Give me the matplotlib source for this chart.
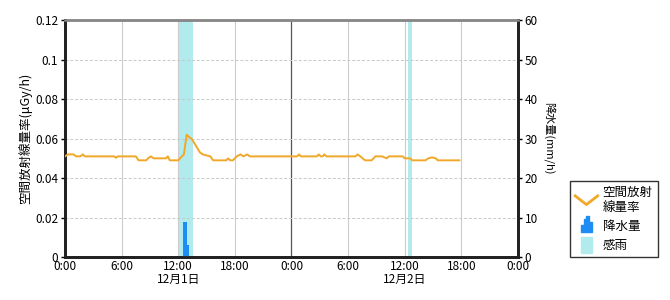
import matplotlib
matplotlib.use('Agg')
import matplotlib.pyplot as plt
import matplotlib.transforms as mtransforms
from matplotlib.legend_handler import HandlerBase
from matplotlib.lines import Line2D
from matplotlib.patches import Polygon, Rectangle
import numpy as np

plt.rcParams['font.family'] = ['Noto Sans CJK JP', 'DejaVu Sans']

# air dose rate (hours from 12/1 0:00)
dose_hours = [0, 0.3, 0.9, 1.2, 1.6, 1.9, 2.1, 5.2, 5.4, 5.6, 7.5, 7.8, 8.6, 8.8, 9.1, 9.4,
              10.7, 10.9, 11.1, 12.0, 12.2, 12.6, 12.9, 13.1, 13.4, 13.8, 14.3, 14.6,
              15.0, 15.4, 15.7, 17.1, 17.3, 17.5, 17.8, 18.2, 18.6, 18.9, 19.3, 19.6,
              24.6, 24.8, 25.0, 26.7, 26.9, 27.1, 27.3, 27.5, 27.7, 30.8, 31.0, 31.3,
              31.8, 32.5, 32.9, 33.6, 34.1, 34.3, 35.8, 36.0, 36.6, 36.8, 38.2, 38.5,
              38.9, 39.3, 39.5, 41.8]
dose_values = [0.051, 0.052, 0.052, 0.051, 0.051, 0.052, 0.051, 0.051, 0.0503, 0.051, 0.051, 0.049, 0.049, 0.050, 0.051, 0.050,
               0.050, 0.051, 0.049, 0.049, 0.050, 0.052, 0.062, 0.061, 0.060, 0.057, 0.053, 0.052,
               0.0515, 0.051, 0.049, 0.049, 0.050, 0.049, 0.049, 0.051, 0.052, 0.051, 0.052, 0.051,
               0.051, 0.052, 0.051, 0.051, 0.052, 0.051, 0.051, 0.052, 0.051, 0.051, 0.052, 0.051,
               0.049, 0.049, 0.051, 0.051, 0.050, 0.051, 0.051, 0.050, 0.050, 0.049, 0.049, 0.050,
               0.0505, 0.050, 0.049, 0.049]

# precipitation (mm/h)
rain_hours = [12.55, 12.95]
rain_widths = [0.35, 0.2]
rain_values = [9.0, 3.0]

# rain sensor periods
sensor_start = [12.0, 36.35]
sensor_end = [13.55, 36.8]

xtick_hours = [0, 6, 12, 18, 24, 30, 36, 42, 48]
xtick_labels = ['0:00', '6:00', '12:00', '18:00', '0:00', '6:00', '12:00', '18:00', '0:00']
date_hours = [12, 36]
date_labels = ['12月1日', '12月2日']

line_color = '#F0A828'
rain_color = '#1E8CF5'
sensor_color = '#B2EBEE'


class HandlerZigzag(HandlerBase):
    def create_artists(self, legend, orig_handle, xdescent, ydescent, width, height, fontsize, trans):
        x = [0, width * 0.5, width]
        y = [height, 0, height]
        ln = Line2D(x, y, color=line_color, lw=2, transform=trans)
        return [ln]


class HandlerRain(HandlerBase):
    def create_artists(self, legend, orig_handle, xdescent, ydescent, width, height, fontsize, trans):
        w = width
        h = height * 1.6
        pts = [(0.25 * w, -0.3 * height), (0.25 * w, 0.35 * h), (0.4 * w, 0.35 * h), (0.4 * w, 0.75 * h),
               (0.5 * w, 0.75 * h), (0.5 * w, h), (0.6 * w, h), (0.6 * w, 0.55 * h), (0.75 * w, 0.55 * h),
               (0.75 * w, -0.3 * height)]
        p = Polygon(pts, closed=True, color=rain_color, transform=trans)
        return [p]


class HandlerSensor(HandlerBase):
    def create_artists(self, legend, orig_handle, xdescent, ydescent, width, height, fontsize, trans):
        r = Rectangle((0.25 * width, -0.4 * height), 0.5 * width, 1.8 * height,
                      color=sensor_color, transform=trans)
        return [r]


fig = plt.figure(figsize=(6.7, 3.0), dpi=100)
ax = fig.add_axes([0.097, 0.143, 0.676, 0.79])
ax2 = ax.twinx()

# background things live on the rain axes (drawn below the dose line)
for s, e in zip(sensor_start, sensor_end):
    ax2.axvspan(s, e, color=sensor_color, lw=0, zorder=1)

for h in xtick_hours[1:-1]:
    if h == 24:
        ax2.axvline(h, color='#555555', lw=0.9, zorder=1.5)
    else:
        ax2.axvline(h, color='#cccccc', lw=0.8, zorder=1.5)
for v in np.arange(10, 60, 10):
    ax2.axhline(v, color='#c8c8c8', lw=0.7, ls=(0, (3, 2)), zorder=1.5)

ax2.bar(rain_hours, rain_values, width=rain_widths, align='edge', color=rain_color, zorder=3)
ax.plot(dose_hours, dose_values, color=line_color, lw=1.4, zorder=4)

ax.set_xlim(0, 48)
ax.set_ylim(0, 0.12)
ax2.set_ylim(0, 60)
ax.set_yticks(np.arange(0, 0.121, 0.02))
ax.set_yticklabels(['0', '0.02', '0.04', '0.06', '0.08', '0.1', '0.12'])
ax2.set_yticks(np.arange(0, 61, 10))
ax.set_xticks(xtick_hours)
ax.set_xticklabels(xtick_labels)
ax.tick_params(axis='x', length=0, pad=2, labelsize=8.5)
ax.tick_params(axis='y', length=3, width=1, labelsize=8.5, pad=2)
ax2.tick_params(axis='y', length=3, width=1, labelsize=8.5, pad=2)

# put the dose line above the rain axes
ax.set_zorder(ax2.get_zorder() + 1)
ax.patch.set_visible(False)

for a in (ax, ax2):
    a.spines['top'].set_color('#888888')
    a.spines['top'].set_linewidth(1.8)
    a.spines['bottom'].set_color('#222222')
    a.spines['bottom'].set_linewidth(2)
    a.spines['left'].set_color('#222222')
    a.spines['left'].set_linewidth(2)
    a.spines['right'].set_color('#222222')
    a.spines['right'].set_linewidth(2)

ax.set_ylabel('空間放射線量率(μGy/h)', fontsize=9, labelpad=2)
ax2.set_ylabel('降水量(mm/h)', fontsize=8, rotation=270, labelpad=12)

trans = mtransforms.blended_transform_factory(ax.transData, ax.transAxes)
for h, lab in zip(date_hours, date_labels):
    ax.text(h, -0.065, lab, transform=trans, ha='center', va='top', fontsize=8.5)

handles = [Line2D([], []), Rectangle((0, 0), 1, 1), Rectangle((0, 0), 1, 1)]
labels = ['空間放射\n線量率', '降水量', '感雨']
leg = fig.legend(handles, labels, loc='lower left', bbox_to_anchor=(0.851, 0.143),
                 borderaxespad=0, fontsize=9, frameon=True, fancybox=False, edgecolor='#000000',
                 handlelength=1.8, handletextpad=0.4, labelspacing=0.5, borderpad=0.4,
                 handler_map={handles[0]: HandlerZigzag(), handles[1]: HandlerRain(),
                              handles[2]: HandlerSensor()})
leg.get_frame().set_linewidth(1.0)

fig.savefig('out.png', dpi=100)
